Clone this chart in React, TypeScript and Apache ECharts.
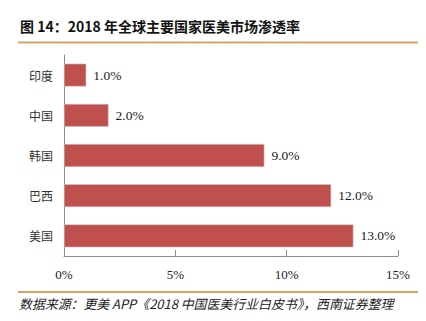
import React, { useEffect, useRef } from "react";
import * as echarts from "echarts";

const categories = ["印度", "中国", "韩国", "巴西", "美国"];
const values = [1.0, 2.0, 9.0, 12.0, 13.0];
const xTicks = { min: 0, max: 15, interval: 5 };
const titleText = "图 14：2018 年全球主要国家医美市场渗透率";
const sourceText = "数据来源：更美 APP《2018 中国医美行业白皮书》，西南证券整理";

export default function App() {
  const ref = useRef<HTMLDivElement>(null);
  useEffect(() => {
    document.body.style.margin = "0";
    if (!ref.current) return;
    const chart = echarts.init(ref.current, null, { renderer: "svg" });
    chart.setOption({
      animation: false,
      backgroundColor: "#fff",
      grid: { left: 64, right: 28, top: 55, bottom: 65, containLabel: false },
      xAxis: {
        type: "value",
        min: xTicks.min,
        max: xTicks.max,
        interval: xTicks.interval,
        splitLine: { show: false },
        axisLine: { show: true, lineStyle: { color: "#8c8c8c", width: 1 } },
        axisTick: { show: true, inside: true, length: 6, lineStyle: { color: "#8c8c8c" } },
        axisLabel: {
          formatter: "{value}%",
          fontFamily: "Liberation Serif",
          fontSize: 13,
          color: "#222",
          margin: 12,
        },
      },
      yAxis: {
        type: "category",
        data: categories,
        inverse: true,
        axisLine: { show: true, lineStyle: { color: "#8c8c8c", width: 1 } },
        axisTick: { show: false },
        axisLabel: {
          fontFamily: "Noto Sans CJK SC",
          fontSize: 12,
          color: "#333",
          margin: 11,
        },
      },
      series: [
        {
          type: "bar",
          data: values,
          barWidth: "57%",
          itemStyle: { color: "#c0504d", borderColor: "#c9c9c9", borderWidth: 0.6 },
          label: {
            show: true,
            position: "right",
            distance: 7,
            formatter: (p: any) => p.value.toFixed(1) + "%",
            fontFamily: "Liberation Serif",
            fontSize: 13.5,
            color: "#222",
          },
        },
      ],
      graphic: [
        {
          type: "text",
          left: 20,
          top: 19,
          style: {
            text: titleText,
            font: "bold 14px 'Noto Sans CJK SC', sans-serif",
            fill: "#111",
          },
        },
        {
          type: "line",
          shape: { x1: 18, y1: 42.5, x2: 418, y2: 42.5 },
          style: { stroke: "#d4a565", lineWidth: 2 },
        },
        {
          type: "line",
          shape: { x1: 18, y1: 292, x2: 418, y2: 292 },
          style: { stroke: "#d4a565", lineWidth: 2 },
        },
        {
          type: "text",
          left: 19,
          top: 297.5,
          style: {
            text: sourceText,
            font: "italic 12.9px 'Noto Sans CJK SC', sans-serif",
            fill: "#222",
          },
        },
      ],
    });
    return () => chart.dispose();
  }, []);
  return <div ref={ref} style={{ width: 426, height: 321 }} />;
}
